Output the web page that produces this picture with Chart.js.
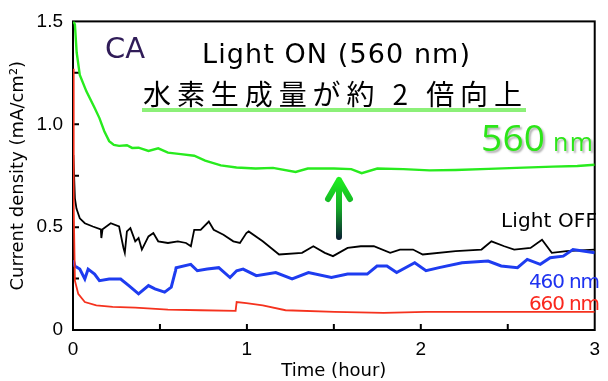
<!DOCTYPE html>
<html>
<head>
<meta charset="utf-8">
<script src="https://cdn.jsdelivr.net/npm/chart.js@4.4.1/dist/chart.umd.min.js"></script>
<style>
  html, body { margin: 0; padding: 0; background: #fff; }
  #wrap { width: 608px; height: 381px; }
</style>
</head>
<body>
<div id="wrap"><canvas id="caChart"></canvas></div>
<script>
// time in hours, current density in mA/cm2
const on560Time = [0.002, 0.011, 0.021, 0.039, 0.077, 0.124, 0.152, 0.18, 0.208, 0.235, 0.265, 0.31, 0.34, 0.377, 0.434, 0.49, 0.546, 0.62, 0.697, 0.76, 0.85, 0.94, 1.05, 1.15, 1.28, 1.35, 1.5, 1.6, 1.66, 1.75, 1.9, 2.05, 2.2, 2.39, 2.55, 2.76, 2.9, 3.0];
const on560Value = [1.5, 1.485, 1.35, 1.24, 1.16, 1.08, 1.03, 0.966, 0.918, 0.9, 0.895, 0.898, 0.885, 0.886, 0.87, 0.883, 0.862, 0.855, 0.847, 0.823, 0.8, 0.79, 0.785, 0.788, 0.768, 0.785, 0.785, 0.782, 0.762, 0.785, 0.782, 0.776, 0.778, 0.783, 0.788, 0.794, 0.797, 0.803];

const offTime = [0.002, 0.011, 0.02, 0.039, 0.068, 0.114, 0.16, 0.163, 0.17, 0.217, 0.265, 0.29, 0.298, 0.31, 0.33, 0.358, 0.377, 0.396, 0.434, 0.462, 0.49, 0.546, 0.603, 0.65, 0.678, 0.697, 0.734, 0.781, 0.809, 0.865, 0.922, 0.96, 0.997, 1.01, 1.091, 1.185, 1.317, 1.382, 1.448, 1.495, 1.579, 1.655, 1.73, 1.824, 1.88, 1.955, 2.011, 2.2, 2.349, 2.406, 2.48, 2.537, 2.631, 2.697, 2.753, 2.838, 3.0];
const offValue = [0.85, 0.64, 0.59, 0.543, 0.519, 0.503, 0.489, 0.447, 0.49, 0.519, 0.503, 0.4, 0.375, 0.479, 0.495, 0.431, 0.447, 0.391, 0.455, 0.471, 0.431, 0.423, 0.431, 0.423, 0.407, 0.487, 0.487, 0.527, 0.487, 0.463, 0.431, 0.423, 0.471, 0.479, 0.431, 0.367, 0.375, 0.407, 0.375, 0.359, 0.399, 0.407, 0.407, 0.375, 0.391, 0.391, 0.367, 0.383, 0.391, 0.431, 0.407, 0.391, 0.399, 0.439, 0.375, 0.383, 0.391];

const on460Time = [0.002, 0.011, 0.039, 0.068, 0.087, 0.124, 0.152, 0.208, 0.274, 0.321, 0.377, 0.434, 0.471, 0.527, 0.565, 0.59, 0.593, 0.677, 0.715, 0.772, 0.838, 0.903, 0.941, 0.978, 1.054, 1.166, 1.26, 1.354, 1.486, 1.579, 1.692, 1.748, 1.805, 1.861, 1.965, 2.03, 2.105, 2.237, 2.387, 2.462, 2.556, 2.612, 2.687, 2.744, 2.819, 2.875, 3.0];
const on460Value = [0.34, 0.311, 0.296, 0.248, 0.296, 0.272, 0.24, 0.248, 0.248, 0.216, 0.176, 0.216, 0.2, 0.184, 0.208, 0.29, 0.303, 0.319, 0.288, 0.296, 0.303, 0.255, 0.288, 0.296, 0.264, 0.279, 0.248, 0.279, 0.255, 0.272, 0.272, 0.311, 0.311, 0.279, 0.327, 0.288, 0.303, 0.327, 0.335, 0.311, 0.303, 0.343, 0.319, 0.351, 0.359, 0.391, 0.375];

const on660Time = [0.0, 0.004, 0.011, 0.03, 0.068, 0.134, 0.228, 0.358, 0.546, 0.734, 0.935, 0.941, 0.997, 1.091, 1.222, 1.504, 1.786, 2.03, 2.5, 3.0];
const on660Value = [1.27, 0.6, 0.24, 0.176, 0.136, 0.12, 0.112, 0.109, 0.099, 0.096, 0.093, 0.136, 0.131, 0.12, 0.096, 0.088, 0.083, 0.088, 0.088, 0.088];

const xTickLabels = ["0", "1", "2", "3"];
const yTickLabels = ["0", "0.5", "1.0", "1.5"];

function toPoints(ts, vs) {
  return ts.map((t, i) => ({ x: t, y: vs[i] }));
}

// draw text stretched/squeezed to a measured width using letter spacing
function fitText(ctx, text, left, baseline, width, font, color) {
  ctx.save();
  ctx.font = font;
  ctx.fillStyle = color;
  ctx.textAlign = "left";
  ctx.textBaseline = "alphabetic";
  const w = ctx.measureText(text).width;
  const n = [...text].length;
  if ("letterSpacing" in ctx && n > 1) {
    ctx.letterSpacing = ((width - w) / (n - 1)).toFixed(2) + "px";
  }
  ctx.fillText(text, left, baseline);
  ctx.restore();
}

const axisBox = {
  id: "axisBox",
  beforeDatasetsDraw(chart) {
    const { ctx, chartArea: a, scales } = chart;
    ctx.save();
    ctx.strokeStyle = "#000";
    ctx.lineWidth = 2;
    ctx.strokeRect(a.left, a.top, a.right - a.left, a.bottom - a.top);
    ctx.beginPath();
    for (let v = 0.5; v < 3; v += 0.5) {
      const px = scales.x.getPixelForValue(v);
      ctx.moveTo(px, a.bottom);
      ctx.lineTo(px, a.bottom - 6);
    }
    for (let v = 0.25; v < 1.5; v += 0.25) {
      const py = scales.y.getPixelForValue(v);
      ctx.moveTo(a.left, py);
      ctx.lineTo(a.left + 6, py);
    }
    ctx.stroke();
    ctx.restore();
  },
  afterDraw(chart) {
    const ctx = chart.ctx;
    const latin = "DejaVu Sans";

    fitText(ctx, "CA", 105, 58, 40, "29px '" + latin + "'", "rgb(48,28,88)");
    fitText(ctx, "Light ON (560 nm)", 202, 63, 268, "27px '" + latin + "'", "#000");

    // green highlight under the Japanese line
    ctx.save();
    ctx.fillStyle = "rgb(140,240,120)";
    ctx.fillRect(142, 108, 384, 4);
    ctx.restore();
    fitText(ctx, "水素生成量が約 2 倍向上", 143, 105, 379, "28px 'Noto Sans CJK JP'", "#000");

    ctx.save();
    ctx.shadowColor = "rgba(0,0,0,0.3)";
    ctx.shadowOffsetX = 2;
    ctx.shadowOffsetY = 2;
    ctx.shadowBlur = 2;
    fitText(ctx, "560", 481, 151, 64, "37px 'Open Sans'", "rgb(44,230,24)");
    fitText(ctx, "nm", 553, 151, 40, "25px 'Open Sans'", "rgb(44,230,24)");
    ctx.restore();

    fitText(ctx, "Light OFF", 501, 227, 96, "20px '" + latin + "'", "#000");
    fitText(ctx, "460 nm", 529, 288, 71, "20px '" + latin + "'", "rgb(30,50,240)");
    fitText(ctx, "660 nm", 529, 310, 71, "20px '" + latin + "'", "rgb(250,40,30)");

    // arrow
    ctx.save();
    const grad = ctx.createLinearGradient(0, 178, 0, 239);
    grad.addColorStop(0, "rgb(30,240,30)");
    grad.addColorStop(0.5, "rgb(20,170,40)");
    grad.addColorStop(1, "rgb(10,30,50)");
    ctx.strokeStyle = grad;
    ctx.lineWidth = 6;
    ctx.lineCap = "round";
    ctx.lineJoin = "round";
    ctx.beginPath();
    ctx.moveTo(339, 237);
    ctx.lineTo(339, 180);
    ctx.moveTo(328, 199);
    ctx.lineTo(339, 180);
    ctx.lineTo(350, 199);
    ctx.stroke();
    ctx.restore();
  },
};

new Chart(document.getElementById("caChart"), {
  type: "line",
  data: {
    datasets: [
      {
        label: "660 nm",
        data: toPoints(on660Time, on660Value),
        borderColor: "rgb(245,50,30)",
        borderWidth: 1.8,
      },
      {
        label: "460 nm",
        data: toPoints(on460Time, on460Value),
        borderColor: "rgb(30,60,240)",
        borderWidth: 3,
      },
      {
        label: "Light OFF",
        data: toPoints(offTime, offValue),
        borderColor: "#000",
        borderWidth: 1.8,
      },
      {
        label: "560 nm",
        data: toPoints(on560Time, on560Value),
        borderColor: "rgb(40,235,30)",
        borderWidth: 2.4,
      },
    ],
  },
  options: {
    responsive: true,
    maintainAspectRatio: false,
    animation: false,
    layout: { padding: { top: 17, right: 4, left: 0, bottom: 1 } },
    elements: { point: { radius: 0 }, line: { tension: 0 } },
    plugins: { legend: { display: false }, tooltip: { enabled: false } },
    scales: {
      x: {
        type: "linear",
        min: 0,
        max: 3,
        afterFit: (s) => { s.height = 50; },
        grid: { display: false, drawTicks: false },
        border: { display: false },
        ticks: {
          stepSize: 1,
          padding: 8,
          color: "#000",
          font: { family: "Liberation Sans", size: 19 },
          callback: (v) => xTickLabels[v] ?? "",
        },
        title: {
          display: true,
          text: "Time (hour)",
          color: "#000",
          font: { family: "DejaVu Sans", size: 18, lineHeight: 1 },
          padding: { top: 0, bottom: 0 },
        },
      },
      y: {
        min: 0,
        max: 1.5,
        afterFit: (s) => { s.width = 73; },
        grid: { display: false, drawTicks: false },
        border: { display: false },
        ticks: {
          stepSize: 0.5,
          padding: 10,
          color: "#000",
          font: { family: "Liberation Sans", size: 19 },
          callback: (v) => yTickLabels[Math.round(v * 2)] ?? "",
        },
        title: {
          display: true,
          text: "Current density (mA/cm²)",
          color: "#000",
          font: { family: "DejaVu Sans", size: 18, lineHeight: 1 },
          padding: { top: 9, bottom: 0 },
        },
      },
    },
  },
  plugins: [axisBox],
});
</script>
</body>
</html>
